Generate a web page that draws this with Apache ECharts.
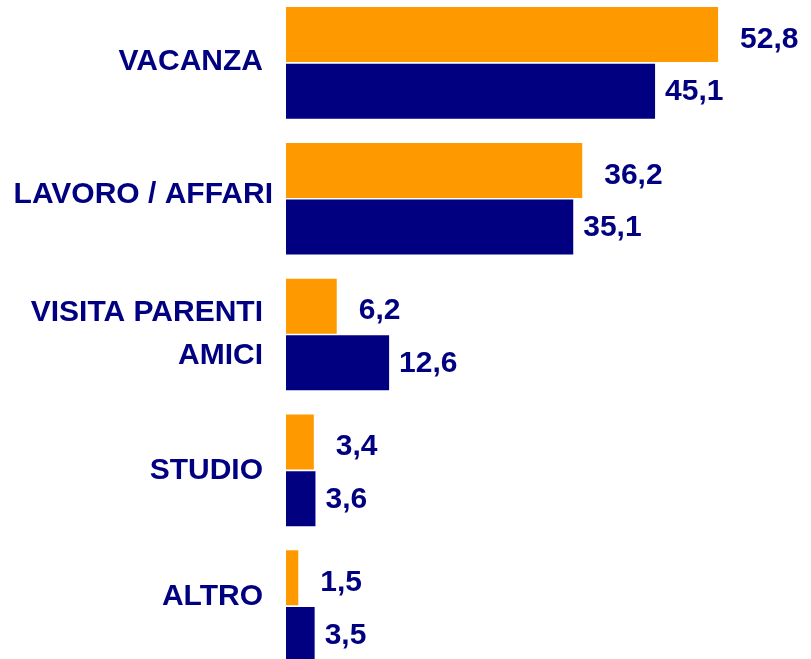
<!DOCTYPE html>
<html>
<head>
<meta charset="utf-8">
<script src="https://cdn.jsdelivr.net/npm/echarts@6/dist/echarts.min.js"></script>
<style>html,body{margin:0;padding:0;background:#fff;overflow:hidden;width:811px;height:659px;}#c{width:811px;height:700px;margin-top:-5px;}</style>
</head>
<body>
<div id="c"></div>
<script>
const categories = ['VACANZA', 'LAVORO / AFFARI', 'VISITA PARENTI\nAMICI', 'STUDIO', 'ALTRO'];
const seriesOrange = [52.8, 36.2, 6.2, 3.4, 1.5];
const seriesNavy = [45.1, 35.1, 12.6, 3.6, 3.5];

const FONT = '"Liberation Sans", Arial, sans-serif';
const NAVY = '#000080';
const ORANGE = '#FF9900';
const fmt = p => String(p.value).replace('.', ',');

// small label nudges seen in the reference: upward lift (px) and rightward shift (px)
const labelLift = [1, 4, 0, 0, 9];
const labelShiftRight = [0, 10, 0, 0, 0];

const rich = {};
labelLift.forEach((l, i) => {
  rich['t' + i] = {
    color: NAVY, fontFamily: FONT, fontWeight: 'bold', fontSize: 30,
    lineHeight: 43, padding: [0, 0, l * 2, 0]
  };
});

const chart = echarts.init(document.getElementById('c'), null, {renderer: 'canvas'});
chart.setOption({
  animation: false,
  backgroundColor: '#ffffff',
  grid: {left: 286, right: 34, top: 0, height: 679, containLabel: false},
  xAxis: {type: 'value', min: 0, max: 60, show: false},
  yAxis: {
    type: 'category',
    data: categories.map((c, i) => ({value: c, textStyle: {padding: [0, -labelShiftRight[i], 0, 0]}})),
    inverse: true,
    axisLine: {show: false}, axisTick: {show: false}, splitLine: {show: false},
    axisLabel: {
      margin: 23, color: NAVY, fontFamily: FONT, fontWeight: 'bold', fontSize: 30,
      lineHeight: 43, align: 'right',
      formatter: (v, i) => labelLift[i] ? v.split('\n').map(s => '{t' + i + '|' + s + '}').join('\n') : v,
      rich: rich
    }
  },
  series: [
    {
      type: 'bar', data: seriesOrange, barWidth: 55, barGap: '3%',
      itemStyle: {color: ORANGE},
      label: {show: true, position: 'right', distance: 22, offset: [0, 5], formatter: fmt,
        color: NAVY, fontFamily: FONT, fontWeight: 'bold', fontSize: 30}
    },
    {
      type: 'bar', data: seriesNavy, barWidth: 55, barGap: '3%',
      itemStyle: {color: NAVY},
      label: {show: true, position: 'right', distance: 10, offset: [0, 1], formatter: fmt,
        color: NAVY, fontFamily: FONT, fontWeight: 'bold', fontSize: 30}
    }
  ]
});
</script>
</body>
</html>
